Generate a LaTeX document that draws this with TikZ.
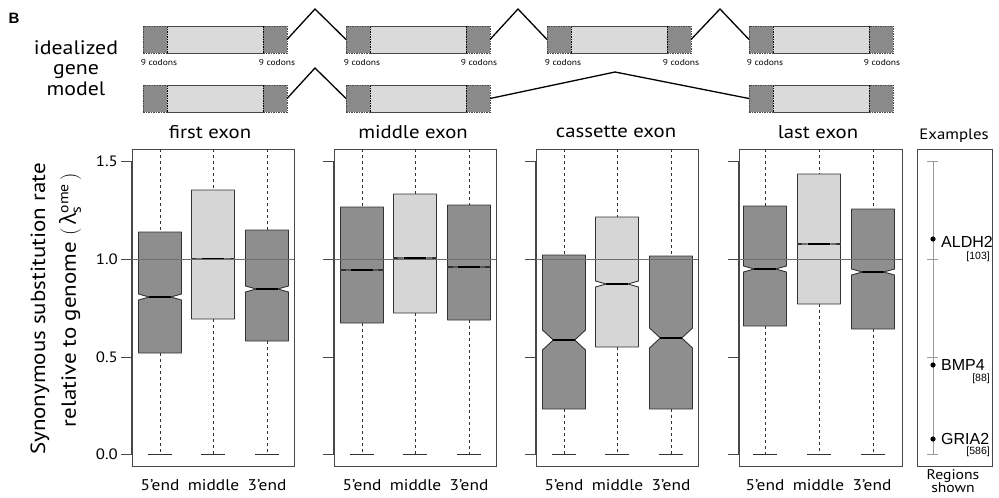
\documentclass[tikz,border=0pt]{standalone}
\usepackage{fontspec}
\setmainfont{PT Sans}[FakeStretch=1.12]
\newfontfamily\arialf{Liberation Sans}
\newfontfamily\grk{Open Sans}

\definecolor{boxdark}{RGB}{142,142,142}
\definecolor{boxlight}{RGB}{214,214,214}
\definecolor{exdark}{RGB}{138,138,138}
\definecolor{exlight}{RGB}{218,218,218}
\definecolor{framec}{RGB}{72,72,72}
\definecolor{outlinec}{RGB}{50,50,50}
\definecolor{refc}{RGB}{110,110,110}

% sizes in pixels: 1 unit = 1pt, y grows downwards
\newcommand\fs[1]{\fontsize{#1}{#1}\selectfont}

% notched box: centre x, top, bottom, median, notch half height, fill
\newcommand\nbox[6]{%
  \filldraw[boxline, fill=#6]
    ({#1-21.5},#2) -- ({#1+21.5},#2) -- ({#1+21.5},{#4-#5}) -- ({#1+10.75},#4)
    -- ({#1+21.5},{#4+#5}) -- ({#1+21.5},#3) -- ({#1-21.5},#3)
    -- ({#1-21.5},{#4+#5}) -- ({#1-10.75},#4) -- ({#1-21.5},{#4-#5}) -- cycle;
  \draw[medline] ({#1-10.75},#4) -- ({#1+10.75},#4);
  \draw[whisk] (#1,149) -- (#1,#2);
  \draw[whisk] (#1,#3) -- (#1,454);
  \draw[capline] ({#1-12},454) -- ({#1+12},454);
}

% panel frame with axis ticks: left x, right x
\newcommand\pframe[2]{%
  \draw[frameline] (#1,149) rectangle (#2,466);
  \draw[axisline] (#1,161) -- (#1,454);
  \foreach \ty in {161,259,357,454} \draw[frameline] ({#1-11},\ty) -- (#1,\ty);
}

% exon of the gene model: name, left x, top y
\newcommand\exon[3]{%
  \fill[exlight] (#2,#3) rectangle ++(144,27);
  \fill[exdark] (#2,#3) rectangle ++(24,27);
  \fill[exdark] ({#2+120},#3) rectangle ++(24,27);
  \draw[exsep] ({#2+24},#3) -- ++(0,27) ({#2+120},#3) -- ++(0,27);
  \node[exonbox] (#1) at ({#2+72},{#3+13.5}) {};
  \draw[exedge] ({#2+24},#3) -- ++(96,0) ({#2+24},{#3+27}) -- ++(96,0);
}

\tikzset{
  boxline/.style={draw=outlinec, line width=0.9pt, line join=round},
  medline/.style={line width=2.6pt, black},
  whisk/.style={draw=outlinec, line width=0.9pt, dash pattern=on 3pt off 3pt},
  capline/.style={draw=outlinec, line width=0.9pt},
  frameline/.style={draw=framec, line width=0.9pt},
  axisline/.style={draw=framec, line width=1.3pt},
  refline/.style={draw=refc, line width=0.6pt},
  exonbox/.style={draw=framec, line width=0.8pt, dash pattern=on 1.5pt off 1pt,
    minimum width=144pt, minimum height=27pt, inner sep=0pt, outer sep=0pt},
  exsep/.style={draw=black, line width=0.6pt, dash pattern=on 1.5pt off 1pt},
  exedge/.style={draw=framec, line width=1pt},
  intron/.style={draw=black, line width=1.3pt},
  codon/.style={font=\fs{8.5}, inner sep=0pt},
  title/.style={font=\fs{18.5}, inner sep=0pt},
  xlab/.style={font=\fs{15.5}, inner sep=0pt},
  ylab/.style={font=\fs{15}, inner sep=0pt, anchor=east},
  gname/.style={font=\arialf\fs{16}, inner sep=0pt, anchor=west},
  gcount/.style={font=\arialf\fs{10.5}, inner sep=0pt, anchor=east},
}

\begin{document}
\begin{tikzpicture}[x=1pt, y=-1pt]
\useasboundingbox (0,0) rectangle (999,498);

% panel letter and gene-model caption
\node[font=\arialf\bfseries\fs{15}, inner sep=0pt] (letter) at (14,18) {B};
\node[font=\fs{19.5}, inner sep=0pt, align=center] (model) at (76,68)
  {idealized\\[1pt]gene\\[1pt]model};

% gene model, constitutive transcript
\exon{e11}{143}{26}
\exon{e12}{346}{26}
\exon{e13}{547}{26}
\exon{e14}{749}{26}
\coordinate (p1) at (315,9);
\coordinate (p2) at (518,9);
\coordinate (p3) at (720,9);
\draw[intron] (e11.east) -- (p1) -- (e12.west);
\draw[intron] (e12.east) -- (p2) -- (e13.west);
\draw[intron] (e13.east) -- (p3) -- (e14.west);

% gene model, transcript skipping the cassette exon
\exon{e21}{143}{85}
\exon{e22}{346}{85}
\exon{e24}{749}{85}
\coordinate (q1) at (315,68);
\coordinate (q2) at (615,72);
\draw[intron] (e21.east) -- (q1) -- (e22.west);
\draw[intron] (e22.east) -- (q2) -- (e24.west);

% codon annotations
\foreach \lx/\rx [count=\i] in {143/287,346/489,547/691,749/892}{
  \node[codon] (cl\i) at ({\lx+16},63) {9 codons};
  \node[codon] (cr\i) at ({\rx-10},63) {9 codons};
}

% panel titles
\node[title] (t1) at (210,132) {first exon};
\node[title] (t2) at (413,132) {middle exon};
\node[title] (t3) at (616,132) {cassette exon};
\node[title] (t4) at (818,132) {last exon};
\node[font=\fs{15}, inner sep=0pt] (t5) at (954,136) {Examples};

% y axis title
\node[font=\fs{20.5}, inner sep=0pt, rotate=90] (yl1) at (40,309)
  {Synonymous substitution rate};
\node[font=\fs{20.5}, inner sep=0pt, rotate=90] (yl2) at (70,300)
  {relative to genome $\biggl($\,{\grk\fs{22}λ}$^{\mbox{\fs{14}ome}}_{\mbox{\fs{14}s}}$\,$\biggr)$};

% tick labels
\node[ylab] (v15) at (118,161) {1.5};
\node[ylab] (v10) at (118,259) {1.0};
\node[ylab] (v05) at (118,357) {0.5};
\node[ylab] (v00) at (118,454) {0.0};

% first exon
\pframe{132}{294}
\nbox{160}{232}{353}{297}{3}{boxdark}
\nbox{213}{190}{319}{259}{0.5}{boxlight}
\nbox{267}{230}{341}{289}{3}{boxdark}
\draw[refline] (132,259) -- (294,259);

% middle exon
\pframe{334}{496}
\nbox{362}{207}{323}{270}{0.6}{boxdark}
\nbox{415}{194}{313}{258}{0.5}{boxlight}
\nbox{469}{205}{320}{267}{0.6}{boxdark}
\draw[refline] (334,259) -- (496,259);

% cassette exon
\pframe{536}{698}
\nbox{564}{255}{409}{340}{10}{boxdark}
\nbox{617}{217}{347}{284}{3}{boxlight}
\nbox{671}{256}{409}{338}{10}{boxdark}
\draw[refline] (536,259) -- (698,259);

% last exon
\pframe{739}{902}
\nbox{765}{206}{326}{269}{3}{boxdark}
\nbox{819}{174}{304}{244}{0.5}{boxlight}
\nbox{873}{209}{329}{272}{3}{boxdark}
\draw[refline] (739,259) -- (902,259);

% x labels
\foreach \c in {160,362,564,765}{
  \node[xlab] at (\c,485) {5’end};
  \node[xlab] at ({\c+53.5},485) {middle};
  \node[xlab] at ({\c+107},485) {3’end};
}

% examples panel
\draw[frameline] (917,149) rectangle (992,466);
\draw[refc!70, line width=0.8pt] (933,161) -- (933,454);
\foreach \ty in {161,259,357,454} \draw[refc!70, line width=0.8pt] (927,\ty) -- (938,\ty);
\fill (933,239) circle (2.6pt);
\fill (933,365) circle (2.6pt);
\fill (933,439) circle (2.6pt);
\node[gname] (g1) at (941,242) {ALDH2};
\node[gcount] (c1) at (990,257) {[103]};
\node[gname] (g2) at (941,365) {BMP4};
\node[gcount] (c2) at (990,379) {[88]};
\node[gname] (g3) at (941,439) {GRIA2};
\node[gcount] (c3) at (990,452) {[586]};
\node[font=\fontsize{14}{13}\selectfont, inner sep=0pt, align=center] (rs) at (953,481)
  {Regions\\shown};
\end{tikzpicture}
\end{document}
